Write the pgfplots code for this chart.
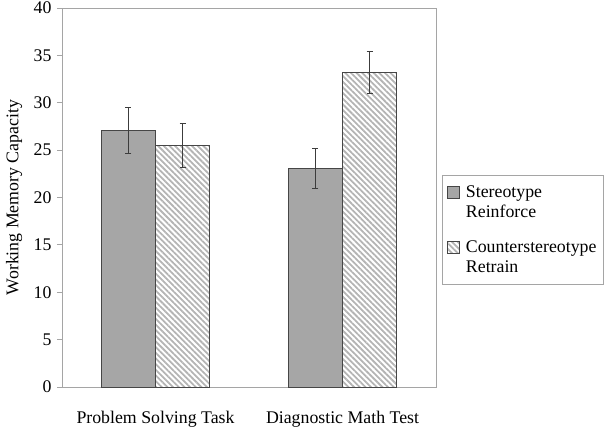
\documentclass[border=0pt]{standalone}
\usepackage{pgfplots}
\pgfplotsset{compat=1.18}
\usepackage{fontspec}
\setmainfont{Liberation Serif}
\usetikzlibrary{patterns.meta}
\definecolor{barfill}{RGB}{166,166,166}
\definecolor{baredge}{RGB}{70,70,70}
\definecolor{hatch}{RGB}{180,180,180}
\definecolor{axcol}{RGB}{165,165,165}
\definecolor{errcol}{RGB}{60,60,60}
\begin{document}
\begin{tikzpicture}[font=\fontsize{17.8bp}{20.5bp}\selectfont]
\path[use as bounding box] (-62bp,-42bp) rectangle (543bp,387bp);
\begin{axis}[
  scale only axis,
  width=374bp, height=379bp,
  at={(0,0)}, anchor=south west,
  ybar=0pt, bar width=0.289,
  xmin=-0.5, xmax=1.5,
  ymin=0, ymax=40,
  ytick={0,5,...,40},
  xtick={0,1},
  xticklabels={Problem Solving Task, Diagnostic Math Test},
  minor xtick={-0.5,0.5,1.5},
  tick align=outside,
  tick pos=left,
  major tick length=5bp,
  minor tick length=5bp,
  xtick style={draw=none},
  every tick/.style={draw=axcol, line width=0.8pt},
  axis line style={draw=axcol, line width=0.8pt},
  xticklabel style={yshift=-16bp},
  yticklabel style={xshift=-2bp},
  ylabel={Working Memory Capacity},
  ylabel style={at={(axis description cs:-0.128,0.5)}, anchor=center},
  /pgf/number format/assume math mode=true,
  legend style={
    at={(axis description cs:1.016,0.559)}, anchor=north west,
    draw=axcol, line width=0.8pt, fill=white,
    font=\fontsize{17.8bp}{20.5bp}\selectfont,
    cells={anchor=base west, align=left},
    row sep=17bp, column sep=4bp,
    inner xsep=5bp, inner ysep=8bp,
  },
  legend image code/.code={\draw[#1, line width=0.6pt] (0bp,19.5bp) rectangle (12bp,31.5bp);},
  error bars/y dir=both, error bars/y explicit,
  error bars/error bar style={draw=errcol, line width=1pt},
  error bars/error mark=-,
  error bars/error mark options={draw=errcol, line width=1pt, mark size=3bp, rotate=90},
]
\addplot[fill=barfill, draw=baredge, line width=0.8pt]
  coordinates {(0,27.05) +- (0,2.4) (1,23.1) +- (0,2.1)};
\addlegendentry{Stereotype\\Reinforce}
\addplot[pattern={Lines[angle=-45, distance=4bp, line width=1.8bp]}, pattern color=hatch, draw=baredge, line width=0.8pt]
  coordinates {(0,25.5) +- (0,2.35) (1,33.2) +- (0,2.25)};
\addlegendentry{Counterstereotype\\Retrain}
\end{axis}
\end{tikzpicture}
\end{document}
